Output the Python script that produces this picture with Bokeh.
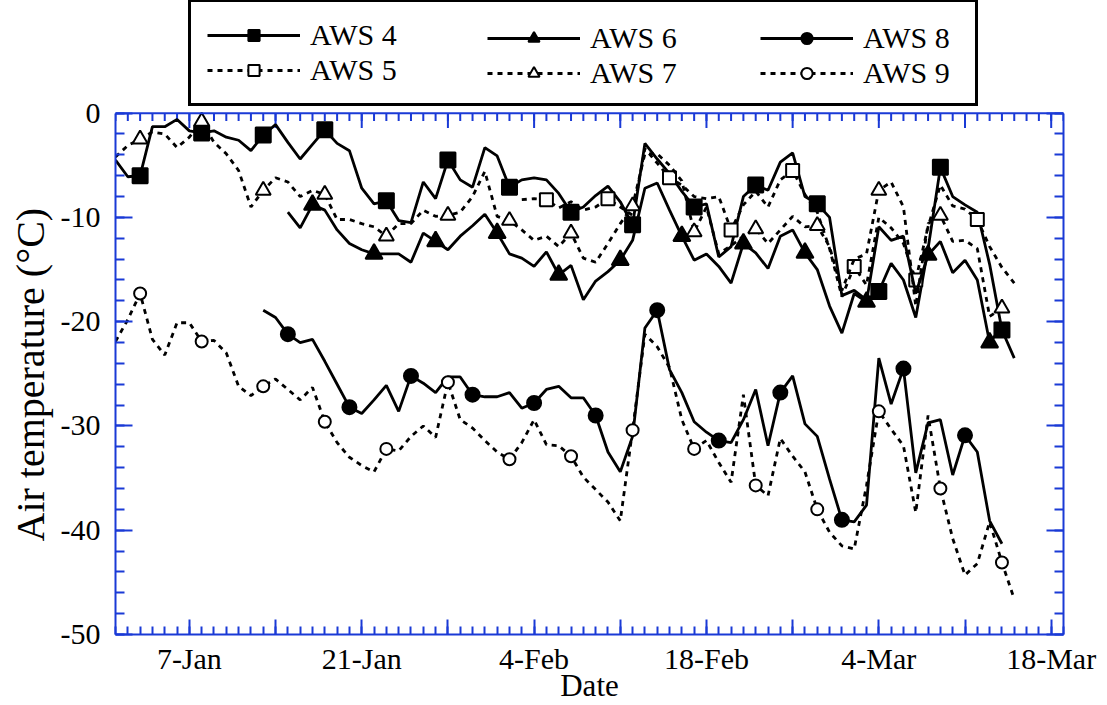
from bokeh.plotting import figure
from bokeh.models import Range1d, FixedTicker, LinearAxis, Legend, LegendItem, Span, Title
from bokeh.embed import file_html
from bokeh.resources import INLINE

# x = day of year (1 = 1 Jan); each series starts on its first day and is daily
aws4_start = 1
aws4 = [-4.5, -6.1, -6.0, -1.3, -1.3, -0.6, -1.7, -1.9, -1.7, -2.3,
        -2.6, -3.6, -2.1, -1.1, -2.8, -4.4, -3.0, -1.6, -2.9, -3.6,
        -7.2, -8.7, -8.4, -10.3, -10.5, -6.6, -8.2, -4.5, -6.4, -7.1,
        -3.3, -4.1, -7.1, -6.4, -6.2, -6.4, -7.7, -9.5, -9.0, -7.9,
        -7.0, -8.5, -10.7, -2.9, -4.4, -5.8, -7.5, -9.0, -8.7, -13.8,
        -12.8, -8.0, -6.9, -7.4, -4.7, -3.8, -8.0, -8.7, -10.0, -17.5,
        -17.0, -17.9, -17.1, -14.4, -16.0, -19.6, -13.0, -5.2, -8.0, -8.8,
        -9.5, -14.5, -20.8, -23.5]

aws5_start = 34
aws5 = [-8.3, -8.2, -8.3, -9.1, -8.5, -9.3, -9.0, -8.2, -9.0, -9.8,
        -3.4, -4.8, -6.2, -6.9, -8.0, -8.2, -8.0, -11.2, -8.8, -7.5,
        -9.0, -6.4, -5.5, -7.8, -9.5, -13.0, -17.6, -14.7, -16.5, -10.0,
        -11.0, -12.5, -16.0, -10.9, -6.9, -8.9, -9.2, -10.2, -12.8, -14.8, -16.3]

aws6_start = 15
aws6 = [-9.5, -11.0, -8.8, -9.3, -11.2, -12.5, -13.1, -13.5, -13.5, -13.5,
        -14.3, -11.5, -12.3, -13.1, -11.8, -10.8, -9.7, -11.5, -13.5, -13.9,
        -14.7, -13.3, -15.5, -14.6, -17.9, -16.1, -15.2, -14.1, -12.2, -7.2,
        -6.7, -9.3, -11.8, -14.1, -13.5, -14.7, -16.3, -12.5, -13.4, -14.9,
        -11.8, -11.2, -13.4, -15.0, -18.5, -21.1, -17.3, -18.1, -10.9, -12.2,
        -11.8, -17.3, -13.6, -12.3, -15.3, -14.1, -16.0, -22.0, -20.5]

aws7_start = 1
aws7 = [-4.2, -3.1, -2.5, -1.8, -2.0, -3.3, -2.3, -0.8, -2.8, -3.9,
        -5.5, -9.0, -7.4, -6.2, -6.6, -8.0, -7.4, -7.8, -10.2, -10.2,
        -10.6, -10.9, -11.8, -10.6, -10.6, -9.3, -9.9, -9.8, -9.5, -8.0,
        -5.6, -9.9, -10.3, -11.2, -12.2, -11.8, -12.8, -11.5, -13.9, -14.3,
        -12.5, -10.6, -8.9, -3.9, -3.9, -5.0, -6.5, -11.4, -9.0, -13.5,
        -12.7, -11.8, -11.1, -12.5, -11.2, -9.9, -10.9, -10.8, -12.8, -17.0,
        -14.0, -13.5, -7.4, -6.6, -9.0, -18.5, -10.6, -9.8, -12.3, -12.2,
        -13.0, -19.5, -18.7]

aws8_start = 13
aws8 = [-18.9, -19.6, -21.2, -22.0, -21.7, -23.8, -26.0, -28.2, -28.8, -27.5,
        -26.1, -28.6, -25.2, -25.9, -26.8, -25.3, -25.3, -27.0, -27.2, -27.2,
        -26.8, -28.3, -27.8, -26.5, -26.2, -27.3, -27.3, -29.0, -32.5, -34.4,
        -31.0, -20.6, -18.9, -24.6, -26.8, -29.6, -30.6, -31.4, -31.6, -29.4,
        -26.5, -31.9, -26.8, -25.2, -29.8, -31.0, -35.1, -39.0, -39.2, -37.6,
        -23.5, -27.9, -24.5, -34.5, -29.7, -29.4, -34.7, -30.9, -32.5, -39.1, -41.3]

aws9_start = 1
aws9 = [-21.9, -19.8, -17.3, -21.7, -23.2, -20.1, -20.1, -21.9, -21.8, -23.0,
        -26.2, -27.1, -26.2, -25.5, -26.5, -27.5, -26.3, -29.6, -31.6, -33.0,
        -33.8, -34.4, -32.2, -32.4, -31.0, -30.0, -31.1, -25.8, -29.4, -30.2,
        -31.4, -32.5, -33.2, -31.6, -29.4, -31.8, -31.9, -32.9, -34.9, -36.1,
        -37.3, -39.1, -30.4, -21.2, -22.4, -24.4, -29.4, -32.2, -31.4, -33.5,
        -35.4, -27.0, -35.7, -36.7, -31.2, -32.9, -34.4, -38.0, -40.2, -41.5,
        -41.8, -35.7, -28.6, -30.3, -31.9, -38.3, -29.0, -36.0, -40.8, -44.3,
        -43.2, -39.2, -43.1, -46.6]

series_names = ["AWS 4", "AWS 5", "AWS 6", "AWS 7", "AWS 8", "AWS 9"]

x_major_days = [7, 14, 21, 28, 35, 42, 49, 56, 63, 70, 77]
x_tick_labels = ["7-Jan", "", "21-Jan", "", "4-Feb", "", "18-Feb", "", "4-Mar", "", "18-Mar"]
x_minor_days = list(range(1, 79))
y_ticks = [-50, -40, -30, -20, -10, 0]
y_tick_labels = ["-50", "-40", "-30", "-20", "-10", "0"]
y_minor = list(range(-50, 1, 2))

X_START, X_END = 1, 78
Y_MIN, Y_MAX = -50, 0

BLUE = "#1a3ad6"
FONT = "Liberation Serif"
W, H = 1107, 705
FRAME_LEFT, FRAME_RIGHT_PAD, FRAME_BOTTOM_PAD = 115, 44, 69
BOX_TOP = 113                      # where the 0 line sits (pixels from top)
frame_h = H - FRAME_BOTTOM_PAD     # frame reaches the top of the canvas
px_per_unit = (frame_h - BOX_TOP) / (Y_MAX - Y_MIN)
y_top = Y_MAX + BOX_TOP / px_per_unit   # room above 0 for the legend

p = figure(width=W, height=H, x_range=Range1d(X_START, X_END), y_range=Range1d(Y_MIN, y_top),
           output_backend="svg", toolbar_location=None,
           min_border_left=FRAME_LEFT, min_border_right=FRAME_RIGHT_PAD,
           min_border_top=0, min_border_bottom=FRAME_BOTTOM_PAD)
p.xgrid.visible = False
p.ygrid.visible = False
p.outline_line_color = None

x_ticker = FixedTicker(ticks=x_major_days, minor_ticks=x_minor_days)
y_ticker = FixedTicker(ticks=y_ticks, minor_ticks=y_minor)


def style_axis(ax, ticker, labels, major_in, minor_in):
    ax.ticker = ticker
    ax.axis_line_color = BLUE
    ax.axis_line_width = 2
    ax.major_tick_line_color = BLUE
    ax.major_tick_line_width = 2
    ax.minor_tick_line_color = BLUE
    ax.minor_tick_line_width = 2
    ax.major_tick_out = 0
    ax.minor_tick_out = 0
    ax.major_tick_in = major_in
    ax.minor_tick_in = minor_in
    ax.major_label_text_font = FONT
    ax.major_label_text_color = "black"
    ax.major_label_text_font_size = "30px"
    ax.axis_label_text_font = FONT
    ax.axis_label_text_font_style = "normal"
    ax.axis_label_text_color = "black"
    if labels is None:
        ax.major_label_overrides = {t: "" for t in ticker.ticks}
        ax.major_label_standoff = 0
    else:
        ax.major_label_overrides = dict(zip(ticker.ticks, labels))


xax = p.xaxis[0]
style_axis(xax, x_ticker, x_tick_labels, 15, 8)
xax.major_label_standoff = 7
xax.axis_label = "Date"
xax.axis_label_text_font_size = "31px"
xax.axis_label_standoff = -10

yax = p.yaxis[0]
style_axis(yax, y_ticker, y_tick_labels, 17, 9)
yax.bounds = (Y_MIN, Y_MAX)
yax.major_label_standoff = 15

# y axis title, centred on the 0..-50 box rather than on the whole frame
YLAB_SIZE = 40
ylab_len = 8.4 * YLAB_SIZE
ylab_center = BOX_TOP + (frame_h - BOX_TOP) / 2
p.add_layout(Title(text="Air temperature (°C)", align="left",
                   offset=int(frame_h - (ylab_center + ylab_len / 2)),
                   vertical_align="middle", standoff=8,
                   text_font=FONT, text_font_size=f"{YLAB_SIZE}px",
                   text_font_style="normal", text_color="black"), "left")

right_ax = LinearAxis(bounds=(Y_MIN, Y_MAX))
style_axis(right_ax, y_ticker, None, 17, 9)
p.add_layout(right_ax, "right")

# top edge of the plotting box with its inward ticks
p.add_layout(Span(location=Y_MAX, dimension="width", line_color=BLUE, line_width=2))
p.segment(x0=x_minor_days, y0=[Y_MAX] * len(x_minor_days), x1=x_minor_days,
          y1=[Y_MAX - 8 / px_per_unit] * len(x_minor_days), line_color=BLUE, line_width=2)
p.segment(x0=x_major_days, y0=[Y_MAX] * len(x_major_days), x1=x_major_days,
          y1=[Y_MAX - 15 / px_per_unit] * len(x_major_days), line_color=BLUE, line_width=2)


def line_style(dashed):
    kw = dict(line_color="black", line_width=2.8)
    if dashed:
        kw["line_dash"] = "5 5"
    return kw


def marker_style(marker, filled):
    size = {"square": 15, "triangle": 17, "circle": 14}[marker]
    if not filled:
        size -= 2
    return dict(marker=marker, size=size, fill_color="black" if filled else "white",
                line_color="black", line_width=2)


specs = [(aws4_start, aws4, False, "square", True),
         (aws5_start, aws5, True, "square", False),
         (aws6_start, aws6, False, "triangle", True),
         (aws7_start, aws7, True, "triangle", False),
         (aws8_start, aws8, False, "circle", True),
         (aws9_start, aws9, True, "circle", False)]

items = []
for name, (start, vals, dashed, marker, filled) in zip(series_names, specs):
    xs = list(range(start, start + len(vals)))
    ln = p.line(xs, vals, **line_style(dashed))
    mk = p.scatter(xs[2::5], vals[2::5], **marker_style(marker, filled))
    items.append(LegendItem(label=name, renderers=[ln, mk]))

PAD = 16
LEG_BOTTOM = 108          # pixels from top of canvas
LEG_LEFT = 188
LEG_WIDTH = 784
GLYPH_W = 93
STANDOFF = 10


def make_legend(its, left, boxed, label_width=None):
    leg = Legend(items=its, location=(left - FRAME_LEFT, frame_h - LEG_BOTTOM),
                 orientation="vertical", padding=PAD, spacing=1, margin=0,
                 glyph_width=GLYPH_W, glyph_height=28, label_standoff=STANDOFF, label_height=28,
                 label_text_font=FONT, label_text_font_size="30px", label_text_color="black")
    if label_width is not None:
        leg.label_width = label_width
    if boxed:
        leg.border_line_color = "black"
        leg.border_line_alpha = 1
        leg.border_line_width = 3
        leg.background_fill_color = "white"
        leg.background_fill_alpha = 1
    else:
        leg.border_line_alpha = 0
        leg.background_fill_alpha = 0
    p.add_layout(leg, "center")


make_legend([items[0], items[1]], LEG_LEFT, True,
            label_width=LEG_WIDTH - 2 * PAD - GLYPH_W - STANDOFF)
make_legend([items[2], items[3]], 487 - PAD, False)
make_legend([items[4], items[5]], 760 - PAD, False)

open("out.html", "w").write(file_html(p, INLINE))
